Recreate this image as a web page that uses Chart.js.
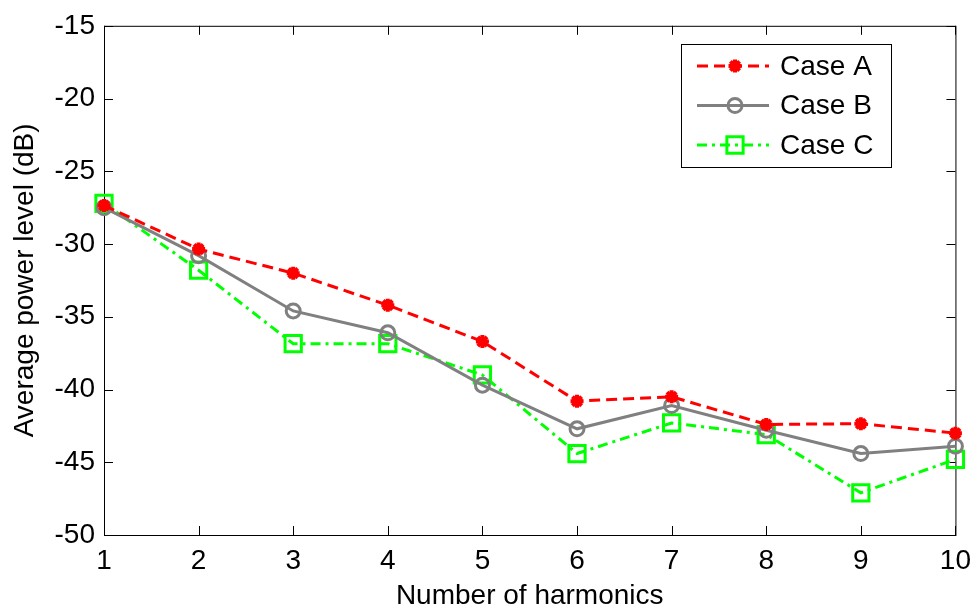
<!DOCTYPE html>
<html>
<head>
<meta charset="utf-8">
<script src="https://cdn.jsdelivr.net/npm/chart.js@4"></script>
<style>
  html, body { margin: 0; padding: 0; background: #fff; }
  #wrap { width: 980px; height: 613px; }
</style>
</head>
<body>
<div id="wrap"><canvas id="myChart"></canvas></div>
<script>
// harmonics on the x axis
const harmonics = [1, 2, 3, 4, 5, 6, 7, 8, 9, 10];
// average power level in dB
const caseA = [-27.35, -30.35, -32.0, -34.2, -36.7, -40.8, -40.5, -42.4, -42.35, -43.0];
const caseB = [-27.5, -30.8, -34.6, -36.1, -39.7, -42.7, -41.1, -42.8, -44.4, -43.9];
const caseC = [-27.2, -31.8, -36.85, -36.85, -39.0, -44.4, -42.3, -43.1, -47.1, -44.8];
const yTicks = [-15, -20, -25, -30, -35, -40, -45, -50];

const FONT = "'Liberation Sans', Arial, sans-serif";
const FSIZE = 28;

function toPoints(vals) {
  return harmonics.map((h, i) => ({ x: h, y: vals[i] }));
}

// MATLAB style box + inward ticks
const boxPlugin = {
  id: 'box',
  beforeDatasetsDraw(chart) {
    const { ctx, chartArea: a, scales } = chart;
    ctx.save();
    ctx.strokeStyle = '#000';
    ctx.lineWidth = 1;
    ctx.strokeRect(a.left + 0.5, a.top + 0.5, a.right - a.left, a.bottom - a.top);
    ctx.beginPath();
    yTicks.forEach(v => {
      const y = Math.round(scales.y.getPixelForValue(v)) + 0.5;
      ctx.moveTo(a.left, y); ctx.lineTo(a.left + 9, y);
      ctx.moveTo(a.right, y); ctx.lineTo(a.right - 9, y);
    });
    harmonics.forEach(h => {
      const x = Math.round(scales.x.getPixelForValue(h)) + 0.5;
      ctx.moveTo(x, a.bottom); ctx.lineTo(x, a.bottom - 9);
      ctx.moveTo(x, a.top); ctx.lineTo(x, a.top + 9);
    });
    ctx.stroke();
    ctx.restore();
  }
};

// legend in the upper right corner of the plot
const legendBox = {
  id: 'legendBox',
  afterDraw(chart) {
    const { ctx } = chart;
    const x0 = 681, y0 = 44, w = 210, h = 123;
    ctx.save();
    ctx.fillStyle = '#fff';
    ctx.fillRect(x0, y0, w, h);
    ctx.strokeStyle = '#000';
    ctx.lineWidth = 1;
    ctx.strokeRect(x0 + 0.5, y0 + 0.5, w, h);
    chart.data.datasets.forEach((ds, i) => {
      const y = y0 + 22 + i * 39.5;
      ctx.strokeStyle = ds.borderColor;
      ctx.lineWidth = ds.borderWidth;
      ctx.setLineDash(ds.borderDash || []);
      ctx.beginPath();
      ctx.moveTo(697, y); ctx.lineTo(769, y);
      ctx.stroke();
      ctx.setLineDash([]);
      ctx.strokeStyle = ds.pointBorderColor;
      ctx.fillStyle = ds.pointBackgroundColor;
      ctx.lineWidth = ds.pointBorderWidth;
      Chart.helpers.drawPoint(ctx, {
        pointStyle: ds.pointStyle,
        radius: ds.pointRadius,
        borderWidth: ds.pointBorderWidth,
        rotation: 0
      }, 735, y);
      ctx.fillStyle = '#000';
      ctx.font = FSIZE + 'px ' + FONT;
      ctx.textBaseline = 'middle';
      ctx.fillText(ds.label, 780, y + 1);
    });
    ctx.restore();
  }
};

const ctx = document.getElementById('myChart').getContext('2d');
const myChart = new Chart(ctx, {
  type: 'line',
  data: {
    datasets: [{
      label: 'Case A',
      data: toPoints(caseA),
      borderColor: '#ff0000',
      backgroundColor: '#ff0000',
      borderWidth: 3,
      borderDash: [11, 6],
      pointStyle: 'star',
      pointRadius: 6.5,
      pointBorderWidth: 4,
      pointBackgroundColor: '#ff0000',
      pointBorderColor: '#ff0000',
      clip: false
    }, {
      label: 'Case B',
      data: toPoints(caseB),
      borderColor: '#808080',
      backgroundColor: 'rgba(0,0,0,0)',
      borderWidth: 3,
      pointStyle: 'circle',
      pointRadius: 7,
      pointBorderWidth: 3,
      pointBackgroundColor: 'rgba(0,0,0,0)',
      pointBorderColor: '#808080',
      clip: false
    }, {
      label: 'Case C',
      data: toPoints(caseC),
      borderColor: '#00ff00',
      backgroundColor: 'rgba(0,0,0,0)',
      borderWidth: 3,
      borderDash: [10, 5, 3, 5],
      pointStyle: 'rect',
      pointRadius: 11.5,
      pointBorderWidth: 3,
      pointBackgroundColor: 'rgba(0,0,0,0)',
      pointBorderColor: '#00ff00',
      clip: false
    }]
  },
  options: {
    responsive: true,
    maintainAspectRatio: false,
    animation: false,
    layout: { padding: { top: 22, right: 18, left: 0, bottom: 0 } },
    plugins: { legend: { display: false }, tooltip: { enabled: false } },
    elements: { line: { tension: 0 } },
    scales: {
      x: {
        type: 'linear',
        min: 1, max: 10,
        grid: { display: false, drawTicks: false },
        border: { display: false },
        afterFit: s => { s.height = 78; },
        ticks: {
          stepSize: 1,
          padding: 9,
          color: '#000',
          font: { family: FONT, size: FSIZE }
        },
        title: {
          display: true,
          text: 'Number of harmonics',
          color: '#000',
          font: { family: FONT, size: FSIZE },
          padding: { top: 0, bottom: 0 }
        }
      },
      y: {
        min: -50, max: -15,
        grid: { display: false, drawTicks: false },
        border: { display: false },
        afterFit: s => { s.width = 104; },
        ticks: {
          stepSize: 5,
          padding: 9,
          color: '#000',
          font: { family: FONT, size: FSIZE }
        },
        title: {
          display: true,
          text: 'Average power level (dB)',
          color: '#000',
          font: { family: FONT, size: FSIZE },
          padding: { top: 8, bottom: 0 }
        }
      }
    }
  },
  plugins: [boxPlugin, legendBox]
});
</script>
</body>
</html>
